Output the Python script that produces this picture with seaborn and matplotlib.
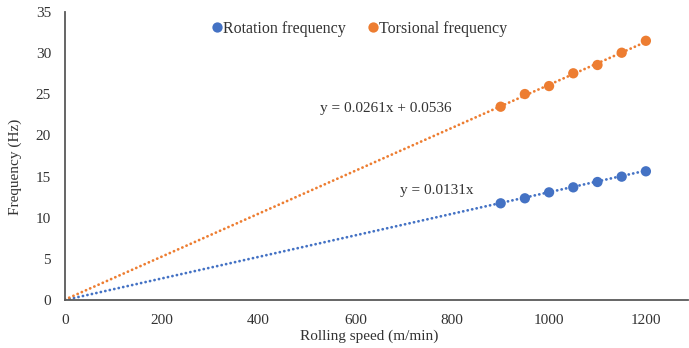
import numpy as np
import pandas as pd
import matplotlib
matplotlib.use("Agg")
import matplotlib.pyplot as plt
import seaborn as sns

# Measured frequencies versus rolling speed
speed = [900, 950, 1000, 1050, 1100, 1150, 1200]
rotation_freq = [11.75, 12.36, 13.08, 13.69, 14.34, 14.99, 15.64]
torsional_freq = [23.49, 25.03, 26.0, 27.55, 28.56, 30.05, 31.5]

# Linear trend lines (slope, intercept)
rotation_fit = (0.0131, 0.0)
torsional_fit = (0.0261, 0.0536)
trend_x = [0, 1200]

x_ticks = [0, 200, 400, 600, 800, 1000, 1200]
y_ticks = [0, 5, 10, 15, 20, 25, 30, 35]

blue = "#4472C4"
orange = "#ED7D31"

sns.set_style("white")
plt.rcParams["font.family"] = ["Liberation Serif", "DejaVu Serif"]
plt.rcParams["font.size"] = 11

df = pd.DataFrame({
    "speed": speed * 2,
    "freq": rotation_freq + torsional_freq,
    "series": ["Rotation frequency"] * len(speed) + ["Torsional frequency"] * len(speed),
})

fig = plt.figure(figsize=(6.89, 3.48), dpi=100)
ax = fig.add_axes([65 / 689, 48 / 348, 623 / 689, 288 / 348])

for (slope, icpt), col in ((rotation_fit, blue), (torsional_fit, orange)):
    ty = [slope * v + icpt for v in trend_x]
    sns.lineplot(x=trend_x, y=ty, ax=ax, color=col, linewidth=2,
                 linestyle=(0, (0.05, 1.6)), dash_capstyle="round", legend=False)

sns.scatterplot(data=df, x="speed", y="freq", hue="series",
                palette=[blue, orange], s=55, edgecolor="none", ax=ax, zorder=3)

ax.set_xlim(0, 1287)
ax.set_ylim(0, 35)
ax.set_xticks(x_ticks)
ax.set_yticks(y_ticks)
ax.tick_params(direction="in", length=5, width=1, color="#595959",
               labelsize=11, labelcolor="#333333")
ax.tick_params(axis="x", pad=10)
ax.tick_params(axis="y", pad=10)
for side in ("top", "right"):
    ax.spines[side].set_visible(False)
for side in ("left", "bottom"):
    ax.spines[side].set_color("#595959")
    ax.spines[side].set_linewidth(1.3)

ax.set_xlabel("Rolling speed (m/min)", fontsize=11, color="#333333")
ax.set_ylabel("Frequency (Hz)", fontsize=11, color="#333333")
ax.xaxis.set_label_coords(0.488, -0.104)
ax.yaxis.set_label_coords(-0.069, 0.462)

leg = ax.legend(loc="upper left", bbox_to_anchor=(0.225, 0.992), ncol=2, frameon=False,
                handlelength=0.7, handletextpad=0.0, columnspacing=1.4, fontsize=11.5,
                borderaxespad=0.0)
for t in leg.get_texts():
    t.set_color("#333333")

ax.text(526, 23.33, "y = 0.0261x + 0.0536", fontsize=11, color="#333333", va="center")
ax.text(692, 13.25, "y = 0.0131x", fontsize=11, color="#333333", va="center")

fig.savefig("out.png", dpi=100)
